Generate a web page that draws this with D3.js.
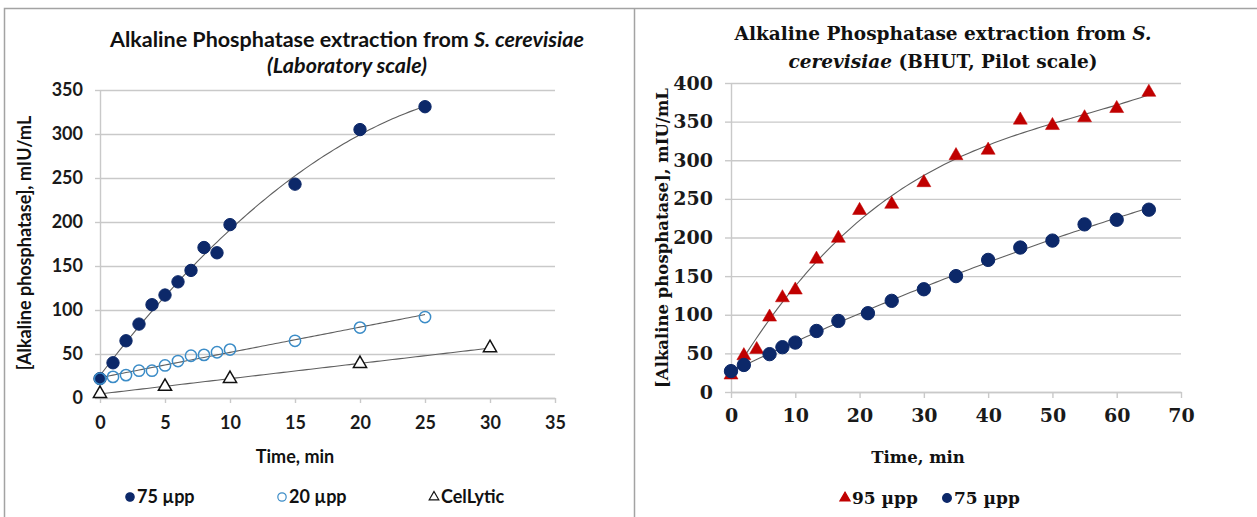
<!DOCTYPE html>
<html><head><meta charset="utf-8">
<script src="https://cdn.jsdelivr.net/npm/d3@7"></script>
<style>body{margin:0;background:#fff} svg{display:block}</style>
</head><body><svg id="c" width="1257" height="517"></svg>
<script>
// ---------- data ----------
const labTime = [0,1,2,3,4,5,6,7,8,9,10,15,20,25];
const lab75 = [22,40,65,84,106,117,132,145,171,165,197,243,305,331];
const lab20 = [22,24,26,31,31,37,42,48,49,52,55,65,80,92];
const cellTime = [0,5,10,20,30];
const cellLytic = [5,13,22,39,57];
const labXTicks = [0,5,10,15,20,25,30,35];
const labYTicks = [0,50,100,150,200,250,300,350];

const pilotTime95 = [0,2,4,6,8,10,13.3,16.7,20,25,30,35,40,45,50,55,60,65];
const pilot95 = [22,47,55,97,122,132,172,199,235,243,271,306,313,352,345,355,367,388];
const pilotTime75 = [0,2,6,8,10,13.3,16.7,21.3,25,30,35,40,45,50,55,60,65];
const pilot75 = [27,35,49,58,64,79,92,102,118,133,150,171,187,196,217,223,236];
const pilotXTicks = [0,10,20,30,40,50,60,70];
const pilotYTicks = [0,50,100,150,200,250,300,350,400];

const yTitle = "[Alkaline phosphatase], mIU/mL";
const xTitle = "Time, min";

// ---------- helpers ----------
function polyfit(xs, ys, deg) {
  const n = deg + 1;
  const A = Array.from({length:n}, () => new Array(n+1).fill(0));
  xs.forEach((x,i) => {
    for (let r=0;r<n;r++){ for (let c=0;c<n;c++) A[r][c]+=Math.pow(x,r+c); A[r][n]+=ys[i]*Math.pow(x,r); }
  });
  for (let i=0;i<n;i++){
    let p=i; for (let k=i+1;k<n;k++) if (Math.abs(A[k][i])>Math.abs(A[p][i])) p=k;
    [A[i],A[p]]=[A[p],A[i]];
    for (let k=i+1;k<n;k++){ const f=A[k][i]/A[i][i]; for (let j=i;j<=n;j++) A[k][j]-=f*A[i][j]; }
  }
  const co=new Array(n).fill(0);
  for (let i=n-1;i>=0;i--){ let s=A[i][n]; for (let j=i+1;j<n;j++) s-=A[i][j]*co[j]; co[i]=s/A[i][i]; }
  return x => co.reduce((s,c,i)=>s+c*Math.pow(x,i),0);
}

const svg = d3.select("#c");
svg.append("rect").attr("width",1257).attr("height",517).attr("fill","#fff");

const GRID = "#c9c9c9", TREND = "#5f5f5f";
const NAVY = "#0c2869", LBLUE = "#3b8cc7", RED = "#c00000";

// panel frames
svg.append("path").attr("d","M4.5,520 V8.5 H1257").attr("fill","none").attr("stroke","#a3a3a3").attr("stroke-width",1.5);
svg.append("line").attr("x1",634.5).attr("x2",634.5).attr("y1",8).attr("y2",520).attr("stroke","#a3a3a3").attr("stroke-width",1.5);

function drawChart(cfg) {
  const g = svg.append("g");
  const x = d3.scaleLinear().domain(cfg.xDomain).range(cfg.xRange);
  const y = d3.scaleLinear().domain(cfg.yDomain).range(cfg.yRange);
  const [x0,x1] = cfg.xRange, [y0,y1] = cfg.yRange;

  // gridlines
  g.append("g").attr("transform",`translate(${x0},0)`)
    .call(d3.axisLeft(y).tickValues(cfg.yTicks).tickSize(-(x1-x0)).tickFormat(""))
    .call(s=>s.select(".domain").remove())
    .call(s=>s.selectAll("line").attr("stroke",GRID).attr("stroke-width",1.4));
  // y axis
  g.append("g").attr("transform",`translate(${x0},0)`)
    .call(d3.axisLeft(y).tickValues(cfg.yTicks).tickSize(cfg.tick).tickSizeOuter(0).tickPadding(cfg.yPad))
    .call(s=>s.select(".domain").attr("stroke",GRID).attr("stroke-width",1.4))
    .call(s=>s.selectAll("line").attr("stroke",GRID).attr("stroke-width",1.4))
    .call(s=>s.selectAll("text").attr("font-family",cfg.font).attr("font-weight","bold")
        .attr("font-size",cfg.tickSize).attr("fill","#1a1a1a"));
  // x axis
  g.append("g").attr("transform",`translate(0,${y0})`)
    .call(d3.axisBottom(x).tickValues(cfg.xTicks).tickSize(cfg.tick).tickSizeOuter(0))
    .call(s=>s.select(".domain").attr("stroke",GRID).attr("stroke-width",1.4))
    .call(s=>s.selectAll("line").attr("stroke",GRID).attr("stroke-width",1.4))
    .call(s=>s.selectAll("text").attr("y",cfg.xLabY - y0).attr("dy","0.35em")
        .attr("font-family",cfg.font).attr("font-weight","bold")
        .attr("font-size",cfg.tickSize).attr("fill","#1a1a1a"));

  // trendlines
  const line = d3.line().x(d=>x(d[0])).y(d=>y(d[1])).curve(d3.curveLinear);
  cfg.series.forEach(s=>{
    const f = polyfit(s.xs, s.ys, s.deg);
    const lo = d3.min(s.xs), hi = d3.max(s.xs);
    const pts = d3.range(0,101).map(i=>{const t=lo+(hi-lo)*i/100; return [t,f(t)];});
    g.append("path").attr("d",line(pts)).attr("fill","none").attr("stroke",TREND).attr("stroke-width",1.1);
  });
  // markers
  cfg.series.forEach(s=>{
    const sym = d3.symbol().type(s.type).size(s.size);
    g.append("g").selectAll("path").data(s.xs.map((v,i)=>[v,s.ys[i]])).join("path")
      .attr("transform",d=>`translate(${x(d[0])},${y(d[1])})`)
      .attr("d",sym).attr("fill",s.fill).attr("stroke",s.stroke).attr("stroke-width",s.sw);
  });

  // titles
  const t = g.append("text").attr("font-family",cfg.font).attr("font-weight","bold")
    .attr("font-size",cfg.titleSize).attr("fill","#111").attr("text-anchor","middle");
  cfg.title.forEach((ln,li)=>{
    const tl = t.append("tspan").attr("x",cfg.titleX).attr("y",cfg.titleY[li]);
    ln.forEach(part=>tl.append("tspan").attr("font-style",part[1]?"italic":"normal").text(part[0]));
  });
  g.append("text").attr("transform",`translate(${cfg.yTitleX},${cfg.yTitleY}) rotate(-90)`)
    .attr("text-anchor","middle").attr("font-family",cfg.font).attr("font-weight","bold")
    .attr("font-size",cfg.axisTitleSize).attr("fill","#111").text(yTitle);
  g.append("text").attr("x",cfg.xTitleX).attr("y",cfg.xTitleY).attr("dy","0.35em")
    .attr("text-anchor","middle").attr("font-family",cfg.font).attr("font-weight","bold")
    .attr("font-size",cfg.axisTitleSize).attr("fill","#111").text(xTitle);

  // legend
  cfg.legend.forEach(l=>{
    const s = cfg.series[l.i];
    g.append("path").attr("transform",`translate(${l.x},${cfg.legY})`)
      .attr("d",d3.symbol().type(s.type).size(l.size)).attr("fill",s.fill).attr("stroke",s.stroke).attr("stroke-width",1.2);
    g.append("text").attr("x",l.x+7).attr("y",cfg.legY).attr("dy","0.35em")
      .attr("font-family",cfg.font).attr("font-weight","bold").attr("font-size",cfg.legSize)
      .attr("fill","#111").text(s.name);
  });
}

drawChart({
  xDomain:[0,35], xRange:[100,555], yDomain:[0,350], yRange:[398,90],
  xTicks:labXTicks, yTicks:labYTicks, tick:5, yPad:12, xLabY:423,
  font:"Lato", tickSize:18, titleSize:21.5, axisTitleSize:18, legSize:18,
  title:[[["Alkaline Phosphatase extraction from ",false],["S. cerevisiae",true]],[["(Laboratory scale)",true]]],
  titleX:347, titleY:[47,73],
  yTitleX:31, yTitleY:243, xTitleX:295, xTitleY:457,
  series:[
    {name:"75 µpp", xs:labTime, ys:lab75, deg:2, type:d3.symbolCircle, size:120, fill:NAVY, stroke:NAVY, sw:1},
    {name:"20 µpp", xs:labTime, ys:lab20, deg:1, type:d3.symbolCircle, size:100, fill:"none", stroke:LBLUE, sw:1.5},
    {name:"CelLytic", xs:cellTime, ys:cellLytic, deg:1, type:d3.symbolTriangle, size:75, fill:"#fff", stroke:"#111", sw:1.5}
  ],
  legY:497, legend:[{i:0,x:130,size:55},{i:1,x:282,size:55},{i:2,x:434,size:40}]
});

drawChart({
  xDomain:[0,70], xRange:[731,1181], yDomain:[0,400], yRange:[392,83],
  xTicks:pilotXTicks, yTicks:pilotYTicks, tick:6, yPad:12, xLabY:415,
  font:"DejaVu Serif", tickSize:19, titleSize:18.5, axisTitleSize:16.5, legSize:17,
  title:[[["Alkaline Phosphatase extraction from ",false],["S.",true]],[["cerevisiae",true],[" (BHUT, Pilot scale)",false]]],
  titleX:943, titleY:[40,68],
  yTitleX:668, yTitleY:238, xTitleX:918, xTitleY:457,
  series:[
    {name:"95 µpp", xs:pilotTime95, ys:pilot95, deg:3, type:d3.symbolTriangle, size:85, fill:RED, stroke:RED, sw:0.5},
    {name:"75 µpp", xs:pilotTime75, ys:pilot75, deg:2, type:d3.symbolCircle, size:140, fill:NAVY, stroke:NAVY, sw:1}
  ],
  legY:498, legend:[{i:0,x:845,size:45},{i:1,x:947,size:60}]
});
</script></body></html>
